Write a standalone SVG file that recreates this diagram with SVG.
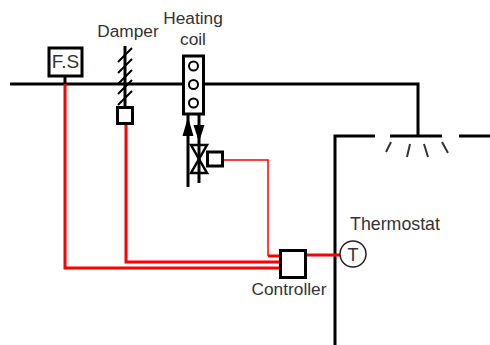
<svg xmlns="http://www.w3.org/2000/svg" width="490" height="345" viewBox="0 0 490 345">
<style>
.k{fill:none;stroke:#000;stroke-width:3}
.t{fill:none;stroke:#000;stroke-width:2}
.r{fill:none;stroke:#f00;stroke-width:3}
.b{fill:#fff;stroke:#000;stroke-width:3}
.s{fill:none;stroke:#333;stroke-width:2}
text{font-family:"Liberation Sans",Arial,sans-serif;font-size:17.300px;fill:#333;text-anchor:middle}
</style>
<rect width="490" height="345" fill="#fff"/>
<g id="connectors">
<path class="k" d="M10 84H418V136"/>
<path class="k" d="M375 136H335V345"/>
<path class="k" d="M390 136H442"/>
<path class="k" d="M459 136H490"/>
<path class="k" d="M65 76V84"/>
<path class="r" d="M65 84V268H280"/>
<path class="r" d="M126 123V262H280"/>
<path fill="none" stroke="#f00" stroke-width="1.500" d="M222 160H268V256"/>
<path class="r" d="M268 256H280"/>
<path class="r" d="M306 255H340"/>
<path class="k" d="M188 114V187"/>
<path class="k" d="M199 114V183"/>
<path d="M182.500 136L188 117L193.500 136Z" fill="#000"/>
<path d="M193.500 125H204.500L199 142Z" fill="#000"/>
</g>
<g id="diffuser">
<path class="s" d="M391 142L386 152M410 144L407 157M424 144L428 157M442 142L448 153"/>
</g>
<g id="fs">
<rect class="b" x="49" y="48" width="33" height="28"/>
<text x="65.500" y="68" style="font-size:19px">F.S</text>
</g>
<g id="damper">
<path class="k" d="M125 46V107"/>
<path class="t" d="M118 62L132 48M118 73L132 59M118 84L132 70M118 94L132 80M118 105L132 91"/>
<rect class="b" x="117.500" y="107.500" width="15" height="16"/>
<text x="128" y="37">Damper</text>
</g>
<g id="coil">
<rect class="b" x="183.500" y="56" width="20" height="58"/>
<circle class="t" cx="193.500" cy="66" r="4.500"/>
<circle class="t" cx="193.500" cy="84.500" r="4.500"/>
<circle class="t" cx="193.500" cy="103" r="4.500"/>
<text x="193" y="24">Heating</text>
<text x="193" y="45">coil</text>
</g>
<g id="valve">
<path fill="none" stroke="#000" stroke-width="2.500" d="M191 145H207L191 173H207Z"/>
<rect class="b" x="207.500" y="152" width="15" height="14"/>
</g>
<g id="controller">
<rect class="b" x="280.500" y="250.500" width="25" height="27"/>
<text x="289" y="295">Controller</text>
</g>
<g id="thermostat">
<circle cx="353" cy="254" r="13" fill="#fff" stroke="#222" stroke-width="1.500"/>
<text x="353" y="261" style="font-size:18px">T</text>
<text x="395" y="230" style="font-size:17.800px">Thermostat</text>
</g>
</svg>
